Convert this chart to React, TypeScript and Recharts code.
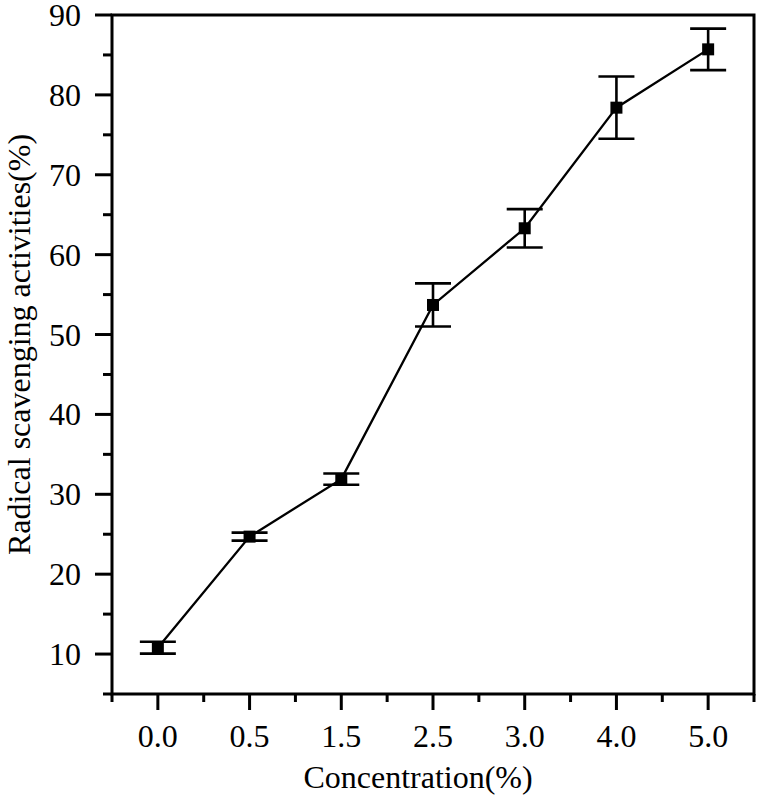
import { LineChart, Line, XAxis, YAxis, ErrorBar, ReferenceArea } from "recharts";

const concentrations = ["0.0", "0.5", "1.5", "2.5", "3.0", "4.0", "5.0"];
const activity = [10.8, 24.7, 31.9, 53.7, 63.3, 78.4, 85.7];
const sd = [0.75, 0.5, 0.7, 2.7, 2.4, 3.9, 2.6];
const yTicks = [5, 10, 15, 20, 25, 30, 35, 40, 45, 50, 55, 60, 65, 70, 75, 80, 85, 90];
const xTicks = [-0.5, 0, 0.5, 1, 1.5, 2, 2.5, 3, 3.5, 4, 4.5, 5, 5.5, 6, 6.5];

const FONT = "'Liberation Serif', 'Times New Roman', serif";
const FS = 32;

const data = concentrations.map((c, i) => ({
  idx: i,
  label: c,
  value: activity[i],
  err: sd[i],
}));

function YTick({ x, y, payload }: any) {
  const v = payload.value;
  const major = v % 10 === 0;
  return (
    <g>
      <line x1={x - (major ? 17 : 9)} x2={x} y1={y} y2={y} stroke="#000" strokeWidth={3} />
      {major && (
        <text
          x={x - 31}
          y={y}
          textAnchor="end"
          dominantBaseline="central"
          fontFamily={FONT}
          fontSize={FS}
          fill="#000"
        >
          {v}
        </text>
      )}
    </g>
  );
}

function XTick({ x, y, payload }: any) {
  const v = payload.value;
  const major = Number.isInteger(v);
  return (
    <g>
      <line x1={x} x2={x} y1={y} y2={y + (major ? 16 : 8)} stroke="#000" strokeWidth={3} />
      {major && (
        <text x={x} y={y + 53} textAnchor="middle" fontFamily={FONT} fontSize={FS} fill="#000">
          {concentrations[v]}
        </text>
      )}
    </g>
  );
}

// y title sits a little above the plot's middle, as in the original
function YTitle({ viewBox }: any) {
  const cx = (viewBox?.x ?? 0) + 19;
  const cy = (viewBox?.y ?? 0) + (viewBox?.height ?? 0) / 2 - 10;
  return (
    <text
      x={cx}
      y={cy}
      transform={`rotate(-90, ${cx}, ${cy})`}
      textAnchor="middle"
      dominantBaseline="central"
      fontFamily={FONT}
      fontSize={FS}
      fill="#000"
    >
      Radical scavenging activities(%)
    </text>
  );
}

function XTitle({ viewBox }: any) {
  const cx = (viewBox?.x ?? 0) + (viewBox?.width ?? 0) / 2 - 15;
  const by = (viewBox?.y ?? 0) + (viewBox?.height ?? 0) - 14;
  return (
    <text x={cx} y={by} textAnchor="middle" fontFamily={FONT} fontSize={FS} fill="#000">
      Concentration(%)
    </text>
  );
}

function SquareDot(props: any) {
  const { cx, cy, index } = props;
  return <rect key={`d-${index}`} x={cx - 6} y={cy - 6} width={12} height={12} fill="#000" />;
}

export default function App() {
  return (
    <div style={{ position: "absolute", left: 0, top: 0, background: "#fff" }}>
      <LineChart
        width={759}
        height={802}
        data={data}
        margin={{ top: 15, right: 5, left: 0, bottom: 0 }}
      >
        <XAxis
          type="number"
          dataKey="idx"
          domain={[-0.5, 6.5]}
          ticks={xTicks}
          interval={0}
          height={108}
          axisLine={false}
          tickLine={false}
          tickSize={0}
          tickMargin={0}
          tick={<XTick />}
          label={<XTitle />}
        />
        <YAxis
          type="number"
          domain={[5, 90]}
          ticks={yTicks}
          interval={0}
          width={112}
          axisLine={false}
          tickLine={false}
          tickSize={0}
          tickMargin={0}
          tick={<YTick />}
          label={<YTitle />}
        />
        <ReferenceArea
          x1={-0.5}
          x2={6.5}
          y1={5}
          y2={90}
          fill="none"
          fillOpacity={0}
          stroke="#000"
          strokeWidth={3}
          ifOverflow="visible"
        />
        <Line
          dataKey="value"
          type="linear"
          stroke="#000"
          strokeWidth={2.3}
          dot={<SquareDot />}
          activeDot={false}
          isAnimationActive={false}
        >
          <ErrorBar dataKey="err" direction="y" width={18} stroke="#000" strokeWidth={2.6} />
        </Line>
      </LineChart>
    </div>
  );
}
